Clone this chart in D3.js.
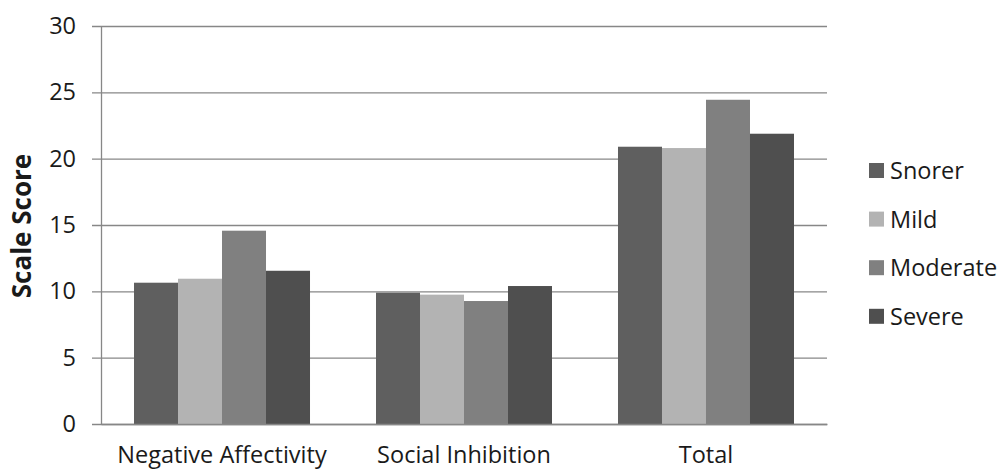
<!DOCTYPE html>
<html>
<head>
<meta charset="utf-8">
<title>Scale Score</title>
<script src="https://cdnjs.cloudflare.com/ajax/libs/d3/7.8.5/d3.min.js"></script>
<style>
  body { margin: 0; background: #fff; }
  text { font-family: "Open Sans", "Noto Sans", sans-serif; fill: #1a1a1a; }
</style>
</head>
<body>
<script>
// data
const categories = ['Negative Affectivity', 'Social Inhibition', 'Total']
const series = ['Snorer', 'Mild', 'Moderate', 'Severe']
const snorer = [10.65, 9.9, 20.9]
const mild = [10.95, 9.75, 20.8]
const moderate = [14.57, 9.27, 24.44]
const severe = [11.55, 10.4, 21.88]
const yTicks = [0, 5, 10, 15, 20, 25, 30]

const values = [snorer, mild, moderate, severe]
const colors = ['#5f5f5f', '#b3b3b3', '#808080', '#4f4f4f']

const width = 998
const height = 470
const margin = { top: 26, left: 101 }
const plotW = 726
const plotH = 398

const svg = d3.select('body').append('svg')
  .attr('width', width)
  .attr('height', height)

const g = svg.append('g')
  .attr('transform', `translate(${margin.left},${margin.top})`)

const x0 = d3.scaleBand()
  .domain(categories)
  .range([0, plotW])
  .paddingInner(0.2727)
  .paddingOuter(0.1364)

const x1 = d3.scaleBand()
  .domain(series)
  .range([0, x0.bandwidth()])

const y = d3.scaleLinear()
  .domain([0, 30])
  .range([plotH, 0])

const color = d3.scaleOrdinal().domain(series).range(colors)

// y axis + gridlines
const yAxis = g.append('g')
  .call(d3.axisLeft(y).tickValues(yTicks).tickSizeInner(-plotW).tickSizeOuter(0).tickPadding(25))
yAxis.selectAll('.tick line')
  .attr('x1', -9)
  .attr('stroke', '#878787')
  .attr('stroke-width', 1.3)
yAxis.select('.domain').attr('stroke', '#878787').attr('stroke-width', 1.3)
yAxis.selectAll('.tick text')
  .style('font-size', '23.5px')
  .attr('fill', '#1a1a1a')

// bars
const groups = g.append('g').selectAll('g')
  .data(categories)
  .join('g')
  .attr('transform', d => `translate(${x0(d)},0)`)

groups.selectAll('rect')
  .data((d, i) => series.map((s, k) => ({ s, v: values[k][i] })))
  .join('rect')
  .attr('x', d => x1(d.s))
  .attr('y', d => y(d.v))
  .attr('width', x1.bandwidth())
  .attr('height', d => y(0) - y(d.v))
  .attr('fill', d => color(d.s))

// x axis
const xAxis = g.append('g')
  .attr('transform', `translate(0,${plotH})`)
  .call(d3.axisBottom(x0).tickSize(0).tickPadding(22))
xAxis.select('.domain').attr('stroke', '#878787').attr('stroke-width', 1.3)
xAxis.selectAll('.tick text')
  .style('font-size', '23.5px')
  .attr('fill', '#1a1a1a')

// y title
svg.append('text')
  .attr('transform', 'translate(31,226) rotate(-90)')
  .attr('text-anchor', 'middle')
  .style('font-size', '26px')
  .style('font-weight', 'bold')
  .text('Scale Score')

// legend
const legend = svg.append('g')
  .attr('transform', 'translate(869,163)')
const item = legend.selectAll('g')
  .data(series)
  .join('g')
  .attr('transform', (d, i) => `translate(0,${i * 48.6})`)
item.append('rect')
  .attr('width', 15)
  .attr('height', 15)
  .attr('fill', d => color(d))
item.append('text')
  .attr('x', 21)
  .attr('y', 16)
  .style('font-size', '23.5px')
  .text(d => d)
</script>
</body>
</html>
